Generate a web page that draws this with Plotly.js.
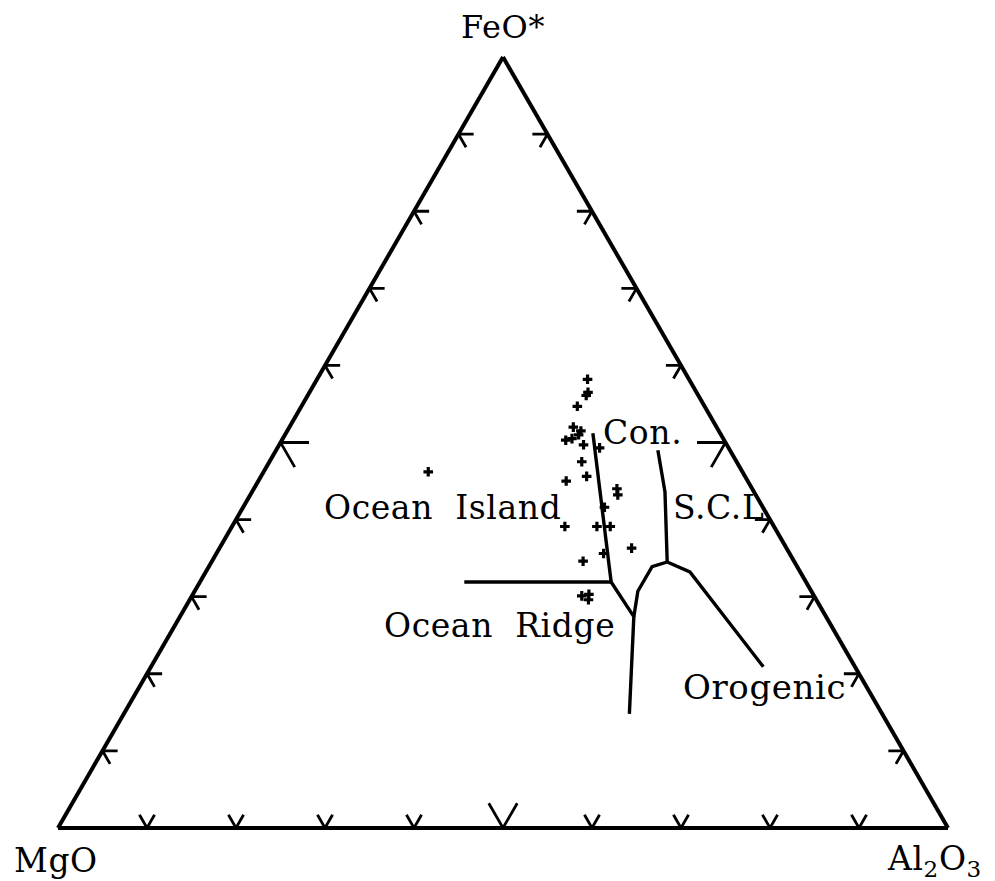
<!DOCTYPE html>
<html>
<head>
<meta charset="utf-8">
<script src="https://cdn.plot.ly/plotly-3.0.1.min.js"></script>
<style>
  html, body { margin: 0; padding: 0; background: #fff; }
  #chart { width: 995px; height: 881px; }
  .annotation-text { letter-spacing: 0.6px; }
</style>
</head>
<body>
<div id="chart"></div>
<script>
// Sample compositions (wt% normalised to FeO* + MgO + Al2O3 = 100)
const sampleFeO = [58.2, 56.5, 56.1, 54.7, 52.0, 51.5, 51.0, 50.3, 50.5, 49.7, 49.3, 47.5, 45.6, 45.0,
                   44.0, 43.2, 41.6, 39.1, 39.1, 39.1, 36.3, 35.6, 34.6, 30.1, 30.3, 29.6, 46.2];
const sampleMgO = [11.4, 12.2, 12.6, 14.3, 16.1, 15.5, 16.0, 17.8, 17.0, 16.1, 14.5, 17.4, 17.8, 20.4,
                   15.2, 15.5, 17.8, 23.5, 19.9, 18.4, 17.4, 20.9, 23.7, 26.1, 25.2, 25.6, 35.3];
const sampleAl2O3 = [30.4, 31.3, 31.3, 31.0, 31.9, 33.0, 33.0, 31.9, 32.5, 34.2, 36.2, 35.1, 36.6, 34.6,
                     40.8, 41.3, 40.6, 37.4, 41.0, 42.5, 46.3, 43.5, 41.7, 43.8, 44.5, 44.8, 18.5];

// Field boundaries (Pearce et al. tectonic setting fields)
// Ocean Island / Continental boundary down to the triple junction
const islandConFeO   = [51.2, 31.9];
const islandConMgO   = [14.3, 21.9];
const islandConAl2O3 = [34.5, 46.2];
// Ocean Island / Ocean Ridge boundary
const islandRidgeFeO   = [31.9, 31.9];
const islandRidgeMgO   = [38.4, 21.9];
const islandRidgeAl2O3 = [29.7, 46.2];
// Ocean Ridge / Orogenic boundary
const ridgeOroFeO   = [31.9, 27.4, 14.8];
const ridgeOroMgO   = [21.9, 21.6, 28.4];
const ridgeOroAl2O3 = [46.2, 51.0, 56.8];
// Continental / Orogenic boundary
const conOroFeO   = [27.4, 30.7, 33.9, 34.5, 33.2, 20.9];
const conOroMgO   = [21.6, 19.5, 16.3, 14.3, 12.4, 10.3];
const conOroAl2O3 = [51.0, 49.8, 49.8, 51.2, 54.4, 68.8];
// Continental / Spreading Centre Island boundary
const conScdFeO   = [49.0, 43.6, 34.5];
const conScdMgO   = [8.1, 10.0, 14.3];
const conScdAl2O3 = [42.9, 46.4, 51.2];

// Edge tick positions (%), with the emphasised midpoint
const tickValues = [10, 20, 30, 40, 50, 60, 70, 80, 90];
const majorTick = 50;

// Build V-shaped tick marks on each edge: the apex sits on the edge and the
// two arms run inward parallel to the other two edges.
function buildTicks() {
  const a = [], b = [], c = [];
  const push = (p) => { a.push(p ? p[0] : null); b.push(p ? p[1] : null); c.push(p ? p[2] : null); };
  tickValues.forEach(t => {
    const d = t === majorTick ? 3.2 : 1.7;
    // bottom edge (FeO* = 0), Al2O3 = t
    push([d, 100 - t - d, t]); push([0, 100 - t, t]); push([d, 100 - t, t - d]); push(null);
    // left edge (Al2O3 = 0), FeO* = t
    push([t, 100 - t - d, d]); push([t, 100 - t, 0]); push([t - d, 100 - t, d]); push(null);
    // right edge (MgO = 0), FeO* = t
    push([t, d, 100 - t - d]); push([t, 0, 100 - t]); push([t - d, d, 100 - t]); push(null);
  });
  return { a, b, c };
}
const ticks = buildTicks();

const lineStyle = { color: '#000', width: 3.4 };
function boundary(aa, bb, cc) {
  return { type: 'scatterternary', mode: 'lines', a: aa, b: bb, c: cc,
           line: lineStyle, hoverinfo: 'skip', showlegend: false };
}

const traces = [
  { type: 'scatterternary', mode: 'lines', a: ticks.a, b: ticks.b, c: ticks.c,
    line: { color: '#000', width: 2.8 }, connectgaps: false, hoverinfo: 'skip', showlegend: false },
  boundary(islandConFeO, islandConMgO, islandConAl2O3),
  boundary(islandRidgeFeO, islandRidgeMgO, islandRidgeAl2O3),
  boundary(ridgeOroFeO, ridgeOroMgO, ridgeOroAl2O3),
  boundary(conOroFeO, conOroMgO, conOroAl2O3),
  boundary(conScdFeO, conScdMgO, conScdAl2O3),
  { type: 'scatterternary', mode: 'markers', a: sampleFeO, b: sampleMgO, c: sampleAl2O3,
    marker: { symbol: 'cross', size: 8, color: '#000', line: { width: 0 } },
    hoverinfo: 'skip', showlegend: false }
];

const axisBase = {
  showgrid: false, showticklabels: false, ticks: '', showline: true,
  linecolor: '#000', linewidth: 4, title: { text: '' }, min: 0
};

const serif = 'DejaVu Serif, Liberation Serif, serif';
function label(text, x, y, size) {
  return { text, x, y, xref: 'paper', yref: 'paper', showarrow: false,
           xanchor: 'center', yanchor: 'middle',
           font: { family: serif, size, color: '#000' } };
}

const layout = {
  width: 995, height: 881,
  margin: { l: 58, r: 47, t: 55, b: 51 },
  paper_bgcolor: '#fff',
  showlegend: false,
  hovermode: false,
  ternary: {
    sum: 100,
    bgcolor: '#fff',
    domain: { x: [0, 1], y: [0, 1] },
    aaxis: axisBase, baxis: axisBase, caxis: axisBase
  },
  annotations: [
    label('FeO*', 0.5, 1.036, 32),
    label('MgO', -0.002, -0.039, 33),
    label('Al<sub>2</sub>O<sub>3</sub>', 0.985, -0.039, 33),
    label('Ocean\u00a0\u00a0Island', 0.4315, 0.4155, 33),
    label('Ocean\u00a0\u00a0Ridge', 0.4966, 0.2645, 33),
    label('Con.', 0.6562, 0.5135, 33),
    label('S.C.L', 0.7416, 0.4155, 33),
    label('Orogenic', 0.7933, 0.1845, 34)
  ]
};

Plotly.newPlot('chart', traces, layout, { displayModeBar: false, staticPlot: true });
</script>
</body>
</html>
